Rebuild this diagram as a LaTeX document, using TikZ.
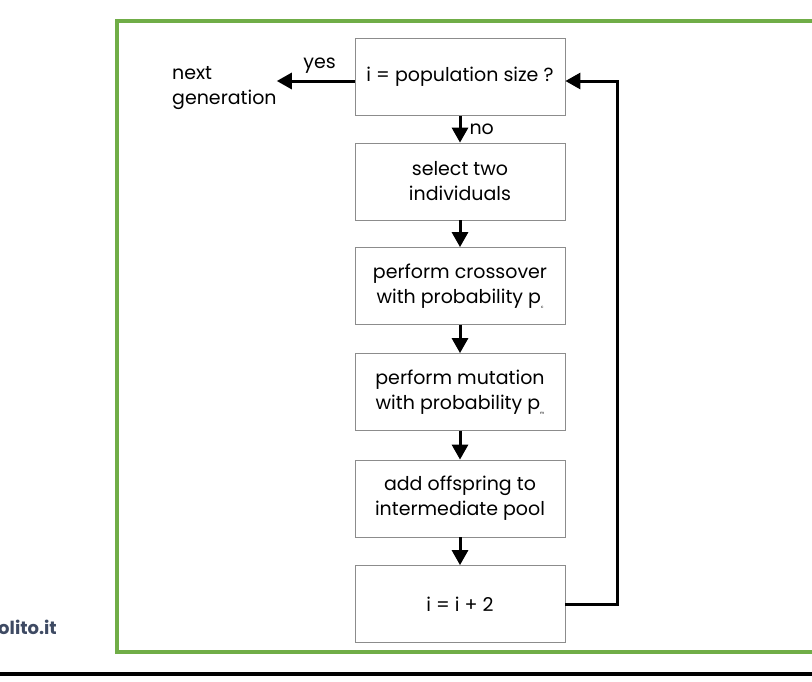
\documentclass[tikz,border=0pt]{standalone}
\usepackage{fontspec}
\setmainfont{Poppins}
\usetikzlibrary{arrows.meta}
\definecolor{framegreen}{RGB}{112,173,71}
\definecolor{logoblue}{RGB}{62,74,99}
\tikzset{
  stepbox/.style={draw=black!45, line width=0.8pt, minimum width=210pt,
    minimum height=77pt, inner sep=0pt, align=center,
    font=\fontsize{19}{25}\selectfont},
  flow/.style={line width=3pt, -{Triangle[length=15pt,width=16pt]}},
  plain/.style={font=\fontsize{19}{25}\selectfont, inner sep=0pt},
}
\newcommand{\psub}[1]{p\raisebox{-5pt}{\fontsize{4}{4}\selectfont #1}}
\begin{document}
\begin{tikzpicture}[x=1pt,y=-1pt]
  \useasboundingbox (0,0) rectangle (812,681);
  % frame and footer
  \draw[framegreen, line width=4pt] (830,21) -- (117,21) -- (117,652) -- (830,652);
  \draw[line width=3.5pt] (0,674) -- (812,674);
  \node[font=\bfseries\fontsize{18}{20}\selectfont, text=logoblue, anchor=east, inner sep=0pt] (logo) at (57,627) {olito.it};
  % steps
  \draw
    (460,77) node[stepbox] (check) {i = population size ?}
    (460,181.5) node[stepbox] (select) {select two\\individuals}
    (460,286) node[stepbox] (cross) {perform crossover\\with probability \psub{c}}
    (460,392) node[stepbox] (mutate) {perform mutation\\with probability \psub{m}}
    (460,498.5) node[stepbox] (pool) {add offspring to\\intermediate pool}
    (460,604) node[stepbox] (incr) {i = i + 2}
    (172,88) node[plain, anchor=west, align=left] (next) {next\\generation};
  \coordinate (loop) at (617,81);
  \begin{scope}[flow]
    \draw (check) to node[plain, right=8pt] {no} (select);
    \draw (select) to (cross);
    \draw (cross) to (mutate);
    \draw (mutate) to (pool);
    \draw (pool) to (incr);
    \draw ([yshift=-4pt]check.west) to node[plain, above=6pt, pos=0.45] {yes} ([yshift=-4pt]check.west -| next.east);
    \draw (incr.east) -| (loop) -- ([yshift=-4pt]check.east);
  \end{scope}
\end{tikzpicture}
\end{document}
